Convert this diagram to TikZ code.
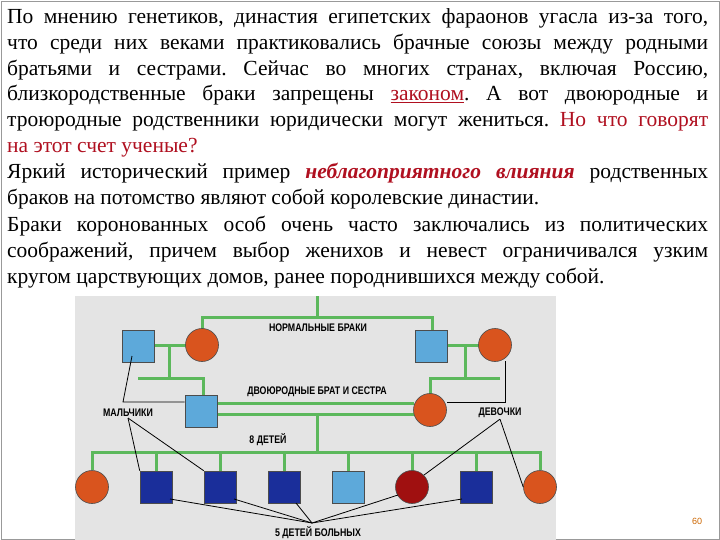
\documentclass[tikz,border=0pt]{standalone}
\usepackage{fontspec}
\setmainfont{Liberation Serif}
\newfontfamily\lbl{Liberation Sans}
\definecolor{grn}{HTML}{5CB85C}
\definecolor{lblue}{HTML}{5DA9DA}
\definecolor{dblue}{HTML}{1A2E9A}
\definecolor{orng}{HTML}{D9541E}
\definecolor{dred}{HTML}{A01010}
\definecolor{txtred}{HTML}{B01020}
\definecolor{bg}{HTML}{E4E4E4}
\frenchspacing
\tikzset{
 ln/.style={anchor=base west,inner sep=0pt,font=\fontsize{21.5}{24}\selectfont},
 sq/.style={draw=black!70,line width=0.6pt,minimum size=32pt,inner sep=0pt},
 male/.style={sq,fill=lblue},
 sick/.style={sq,fill=dblue},
 fem/.style={circle,draw=black!70,line width=0.6pt,minimum size=33pt,inner sep=0pt,fill=orng},
 gl/.style={draw=grn,line width=3pt},
 bl/.style={draw=black,line width=0.8pt},
 lab/.style={font=\lbl\bfseries\fontsize{11}{12}\selectfont,xscale=0.8,inner sep=1pt}
}
\begin{document}
\begin{tikzpicture}[x=1pt,y=-1pt]
\useasboundingbox (0,0) rectangle (720,540);
\fill[white] (0,0) rectangle (720,540);
\draw[black!40] (1,1) rectangle (719,539);
% text
\def\W{701pt}
\node[ln] (t1) at (7,24) {\makebox[\W][s]{По мнению генетиков, династия египетских фараонов угасла из-за того,}};
\node[ln] (t2) at (7,50) {\makebox[\W][s]{что среди них веками практиковались брачные союзы между родными}};
\node[ln] (t3) at (7,76) {\makebox[\W][s]{братьями и сестрами. Сейчас во многих странах, включая Россию,}};
\node[ln] (t4) at (7,101) {\makebox[\W][s]{близкородственные браки запрещены \textcolor{txtred}{\underline{законом}}. А вот двоюродные и}};
\node[ln] (t5) at (7,127) {\makebox[\W][s]{троюродные родственники юридически могут жениться. \textcolor{txtred}{Но что говорят}}};
\node[ln] (t6) at (7,153) {\textcolor{txtred}{на этот счет ученые?}};
\node[ln] (t7) at (7,179) {\makebox[\W][s]{Яркий исторический пример \textcolor{txtred}{\textbf{\textit{неблагоприятного влияния}}} родственных}};
\node[ln] (t8) at (7,205) {браков на потомство являют собой королевские династии.};
\node[ln] (t9) at (7,231) {\makebox[\W][s]{Браки коронованных особ очень часто заключались из политических}};
\node[ln] (t10) at (7,257) {\makebox[\W][s]{соображений, причем выбор женихов и невест ограничивался узким}};
\node[ln] (t11) at (7,283) {кругом царствующих домов, ранее породнившихся между собой.};
% diagram background
\fill[bg] (75,296) rectangle (556,540);
% green lines
\draw[gl] (317,296) -- (317,317);
\draw[gl] (202,330) -- (202,317) -- (432,317) -- (432,332);
\draw[gl] (153,345) -- (186,345);
\draw[gl] (169,345) -- (169,378);
\draw[gl] (138,378) -- (203,378) -- (203,396);
\draw[gl] (447,345) -- (479,345);
\draw[gl] (465,345) -- (465,378);
\draw[gl] (500,378) -- (430,378) -- (430,396);
\draw[gl] (217,403) -- (414,403);
\draw[gl] (217,414) -- (414,414);
\draw[gl] (317,414) -- (317,452);
\draw[gl] (92,470) -- (92,452) -- (540,452) -- (540,470);
\foreach \x in {156,220,284,348,412,476} \draw[gl] (\x,452) -- (\x,472);
% people
\node[male] (m1) at (138,346) {};
\node[fem] (f1) at (202,345) {};
\node[male] (m2) at (431,346) {};
\node[fem] (f2) at (495,345) {};
\node[male] (m3) at (201,411) {};
\node[fem] (f3) at (430,410) {};
\node[fem] (c1) at (92,487) {};
\node[sick] (c2) at (156,487) {};
\node[sick] (c3) at (220,487) {};
\node[sick] (c4) at (284,487) {};
\node[male] (c5) at (348,487) {};
\node[fem,fill=dred] (c6) at (412,487) {};
\node[sick] (c7) at (476,487) {};
\node[fem] (c8) at (540,487) {};
% labels
\node[lab] (lnorm) at (318,328) {НОРМАЛЬНЫЕ БРАКИ};
\node[lab] (lcous) at (317,392) {ДВОЮРОДНЫЕ БРАТ И СЕСТРА};
\node[lab] (lboys) at (128,413) {МАЛЬЧИКИ};
\node[lab] (lgirls) at (500,413) {ДЕВОЧКИ};
\node[lab] (lkids) at (268,440) {8 ДЕТЕЙ};
\node[lab] (lsick) at (318,533) {5 ДЕТЕЙ БОЛЬНЫХ};
% black pointer lines
\coordinate (p1) at (123,402);
\coordinate (p2) at (505,402);
\coordinate (q) at (312,523);
\draw[bl] (m1.center) ++(-6,10) -- (p1) -- (m3.west|-p1);
\draw[bl] (f2.center) ++(10,16) -- (p2) -- (f3.east|-p2);
\draw[bl] (lboys.south) -- (c2.north west);
\draw[bl] (lboys.south) -- (c3.north west);
\draw[bl] (lgirls.south) -- (c6.north east);
\draw[bl] (lgirls.south) -- (c8.west);
\draw[bl] (c2.center) ++(14,12) -- (q);
\draw[bl] (c3.center) ++(14,12) -- (q);
\draw[bl] (c4.center) ++(12,16) -- (q);
\draw[bl] (c6.center) ++(-14,8) -- (q);
\draw[bl] (c7.center) ++(-14,12) -- (q);
\node[font=\lbl\fontsize{9}{10}\selectfont,text=orange!80!black] (pg) at (697,521) {60};
\end{tikzpicture}
\end{document}
